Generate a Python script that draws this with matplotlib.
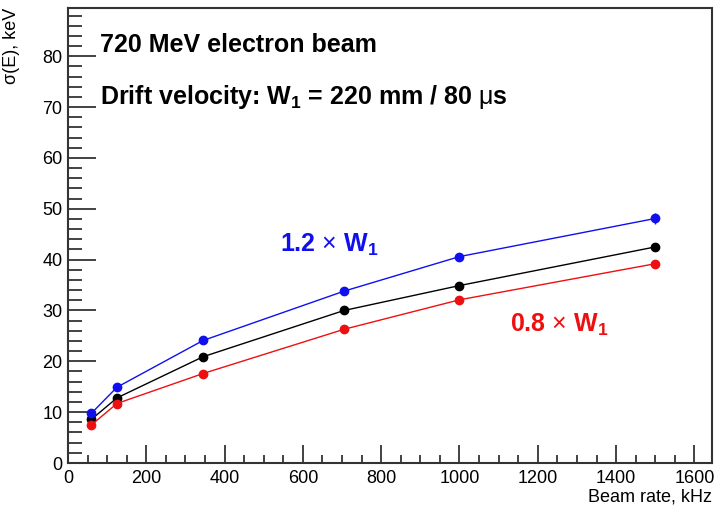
import matplotlib
matplotlib.use("Agg")
import matplotlib.pyplot as plt
from matplotlib.ticker import MultipleLocator

plt.rcParams['font.family'] = ['Liberation Sans', 'DejaVu Sans']
plt.rcParams['mathtext.fontset'] = 'custom'
plt.rcParams['mathtext.rm'] = 'Liberation Sans'
plt.rcParams['mathtext.bf'] = 'Liberation Sans:bold'
plt.rcParams['mathtext.it'] = 'Liberation Sans:italic'

rate = [60, 125, 345, 705, 1000, 1500]
sigma_w1 = [8.6, 12.8, 20.9, 30.0, 34.9, 42.5]
sigma_12 = [9.8, 14.9, 24.1, 33.8, 40.6, 48.1]
sigma_08 = [7.5, 11.7, 17.6, 26.3, 32.1, 39.2]
err_w1 = [0.3, 0.3, 0.4, 0.4, 0.5, 0.6]
err_12 = [0.4, 0.4, 0.5, 0.5, 0.6, 1.0]
err_08 = [0.3, 0.3, 0.3, 0.4, 0.4, 0.5]

fig = plt.figure(figsize=(7.21, 5.16), dpi=100)
ax = fig.add_axes([68/721, 53/516, (712-68)/721, (463-8)/516])

for y, e, c in [(sigma_w1, err_w1, 'black'), (sigma_12, err_12, '#1010ee'), (sigma_08, err_08, '#ee1010')]:
    ax.errorbar(rate, y, yerr=e, color=c, marker='o', ms=6, lw=1.0, elinewidth=1.0, capsize=0)

ax.set_xlim(0, 1645)
ax.set_ylim(0, 89.5)
ax.xaxis.set_major_locator(MultipleLocator(200))
ax.xaxis.set_minor_locator(MultipleLocator(50))
ax.yaxis.set_major_locator(MultipleLocator(10))
ax.yaxis.set_minor_locator(MultipleLocator(2))
ax.tick_params(axis='x', which='major', direction='in', length=13, width=1.2, top=False, labelsize=13, pad=5, color='#222222')
ax.tick_params(axis='x', which='minor', direction='in', length=6, width=1.2, top=False, color='#222222')
ax.tick_params(axis='y', which='major', direction='in', length=20, width=1.2, right=False, labelsize=13, pad=4, color='#222222')
ax.tick_params(axis='y', which='minor', direction='in', length=10, width=1.2, right=False, color='#222222')
for s in ax.spines.values():
    s.set_linewidth(1.5)
    s.set_color('#333333')

fig.text(712/721, 1 - 497/516, 'Beam rate, kHz', ha='right', va='center', fontsize=13)
fig.text(12/721, 1 - 8/516, 'σ(E), keV', ha='center', va='top', rotation=90, fontsize=13)

ax.text(100/721, 1 - 45/516, '720 MeV electron beam', transform=fig.transFigure, fontsize=18, fontweight='bold', ha='left', va='center')
ax.text(100/721, 1 - 97/516, r'Drift velocity: W$_{\mathbf{1}}$ = 220 mm / 80 $\mathrm{\mu}$s', transform=fig.transFigure, fontsize=18, fontweight='bold', ha='left', va='center')
ax.text(280/721, 1 - 245/516, r'1.2 $\times$ W$_{\mathbf{1}}$', transform=fig.transFigure, fontsize=18, fontweight='bold', color='#1010ee', ha='left', va='center')
ax.text(510/721, 1 - 325/516, r'0.8 $\times$ W$_{\mathbf{1}}$', transform=fig.transFigure, fontsize=18, fontweight='bold', color='#ee1010', ha='left', va='center')

fig.savefig('out.png', dpi=100)
